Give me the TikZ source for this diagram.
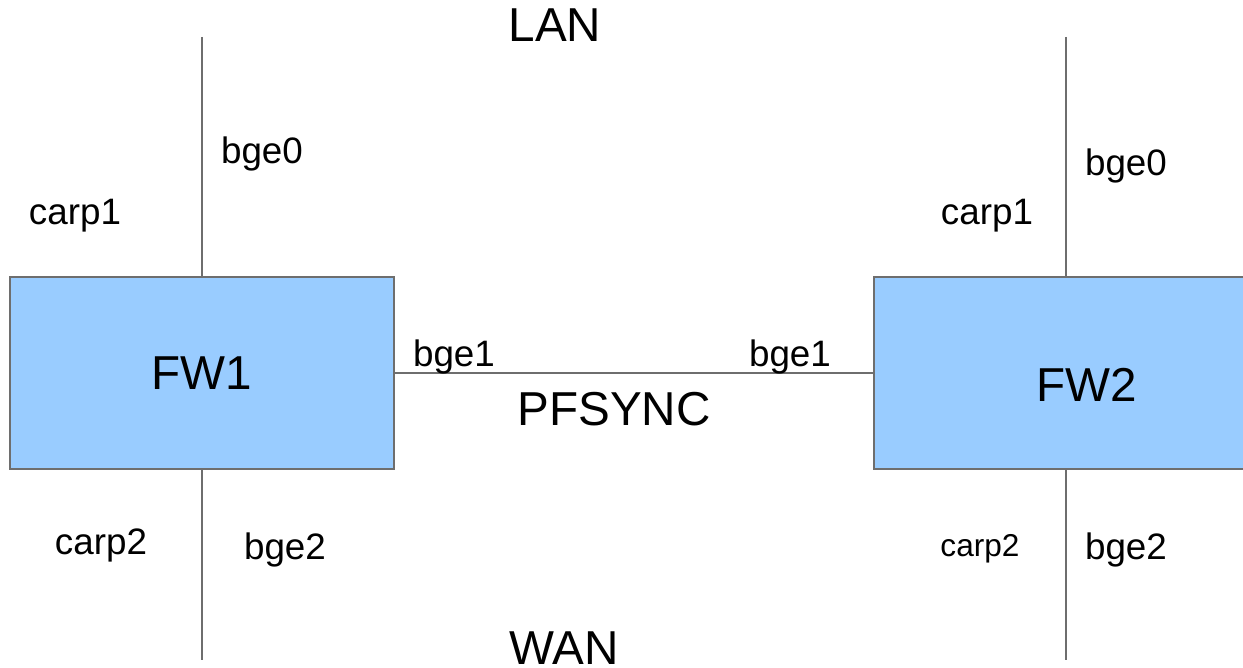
\documentclass[tikz,border=0pt]{standalone}
\usepackage{fontspec}
\setmainfont{Liberation Sans}
\definecolor{boxfill}{HTML}{99CCFF}
\definecolor{edgegray}{HTML}{6E6E6E}
\begin{document}
\begin{tikzpicture}[x=1pt,y=-1pt,
  fw/.style={draw=edgegray,line width=1.2pt,fill=boxfill,inner sep=0pt},
  wire/.style={draw=edgegray,line width=1.3pt},
  big/.style={font=\fontsize{47.6}{50}\selectfont,inner sep=0pt,anchor=base},
  mid/.style={font=\fontsize{36.8}{40}\selectfont,inner sep=0pt,anchor=base},
  sml/.style={font=\fontsize{31.6}{34}\selectfont,inner sep=0pt,anchor=base}]
\useasboundingbox (0,0) rectangle (1243,668);
\clip (0,0) rectangle (1243,668);
% boxes
\node[fw,minimum width=384pt,minimum height=192pt] (fw1) at (202,373) {};
\node[fw,minimum width=384pt,minimum height=192pt] (fw2) at (1066,373) {};
% free ends
\coordinate (l1t) at (202,37);
\coordinate (l1b) at (202,660);
\coordinate (l2t) at (1066,37);
\coordinate (l2b) at (1066,660);
\draw[wire] (l1t) -- (fw1.north);
\draw[wire] (fw1.south) -- (l1b);
\draw[wire] (l2t) -- (fw2.north);
\draw[wire] (fw2.south) -- (l2b);
\draw[wire] (fw1.east) -- (fw2.west);
% labels
\node[big] (lan) at (555,42) {LAN};
\node[big] (wan) at (564,664) {WAN};
\node[big] (pfsync) at (614,425) {PFSYNC};
\node[big] (fw1t) at (202,390) {FW1};
\node[big] (fw2t) at (1087,402) {FW2};
\node[mid] (bge0a) at (262,164) {bge0};
\node[mid] (carp1a) at (75,225) {carp1};
\node[mid] (bge1a) at (454,367) {bge1};
\node[mid] (bge1b) at (790,367) {bge1};
\node[mid] (bge0b) at (1126,176) {bge0};
\node[mid] (carp1b) at (987,225) {carp1};
\node[mid] (carp2a) at (101,554) {carp2};
\node[mid] (bge2a) at (285,559) {bge2};
\node[sml] (carp2b) at (980,556) {carp2};
\node[mid] (bge2b) at (1126,559) {bge2};
\end{tikzpicture}
\end{document}
